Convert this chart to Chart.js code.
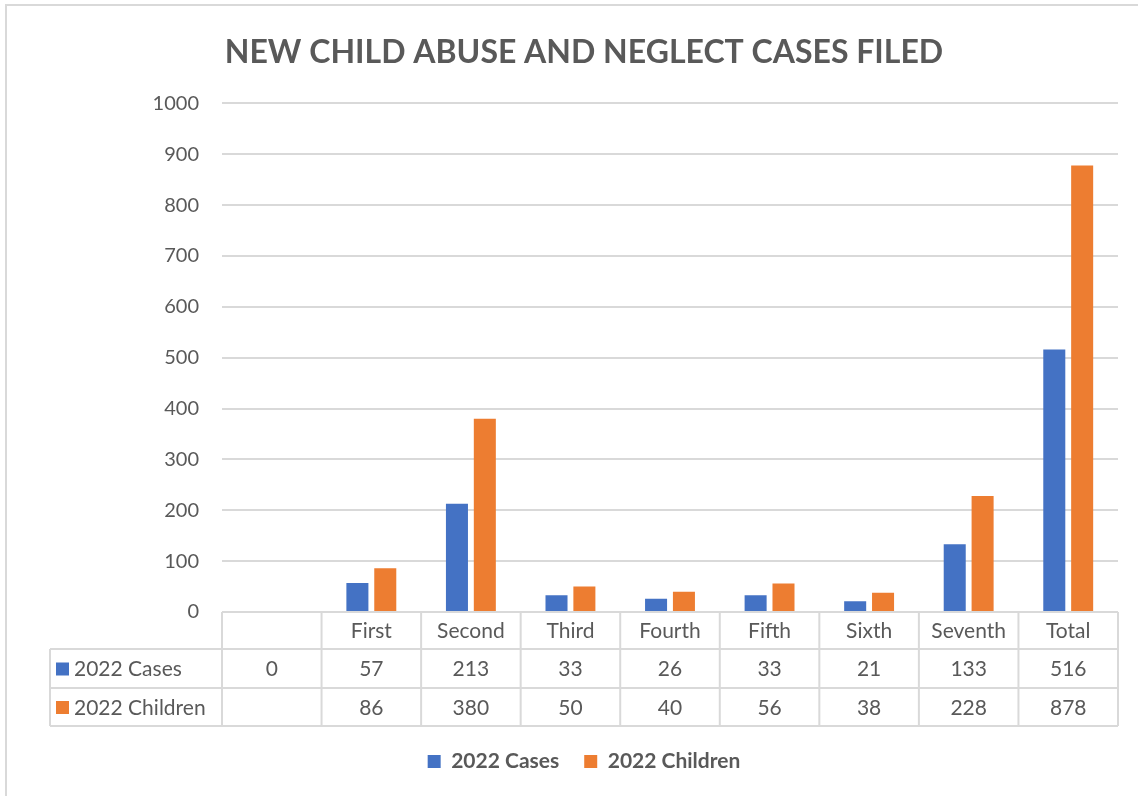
<!DOCTYPE html>
<html>
<head>
<meta charset="utf-8">
<script src="https://cdn.jsdelivr.net/npm/chart.js@4.4.1/dist/chart.umd.min.js"></script>
<style>
  html, body { margin: 0; padding: 0; background: #fff; }
  #wrap { width: 1138px; height: 796px; position: relative; }
</style>
</head>
<body>
<div id="wrap"><canvas id="casesChart" width="1138" height="796"></canvas></div>
<script>
// datos del grafico
const categories = ['', 'First', 'Second', 'Third', 'Fourth', 'Fifth', 'Sixth', 'Seventh', 'Total'];
const cases2022 = [0, 57, 213, 33, 26, 33, 21, 133, 516];
const children2022 = [null, 86, 380, 50, 40, 56, 38, 228, 878];
const seriesNames = ['2022 Cases', '2022 Children'];
const yMin = 0;
const yMax = 1000;
const yStep = 100;

const TEXT = '#595959';
const GRID = '#D9D9D9';
const FONT = 'Lato, "Open Sans", sans-serif';

// marco del grafico (solo arriba e izquierda se ven)
const framePlugin = {
    id: 'frame',
    beforeDraw(chart) {
        const ctx = chart.ctx;
        ctx.save();
        ctx.strokeStyle = GRID;
        ctx.lineWidth = 2;
        ctx.beginPath();
        ctx.moveTo(6, 800);
        ctx.lineTo(6, 5);
        ctx.lineTo(1140, 5);
        ctx.stroke();
        ctx.restore();
    }
};

// tabla de datos debajo del eje x
const dataTablePlugin = {
    id: 'dataTable',
    afterDraw(chart) {
        const { ctx, chartArea, scales: { x } } = chart;
        const half = (x.getPixelForValue(1) - x.getPixelForValue(0)) / 2;
        const rowH = [37, 39, 38];
        const top = chartArea.bottom;
        const y1 = top + rowH[0];
        const y2 = y1 + rowH[1];
        const y3 = y2 + rowH[2];
        const labelLeft = 50;
        const rightEdge = x.getPixelForValue(categories.length - 1) + half;

        ctx.save();
        ctx.strokeStyle = GRID;
        ctx.lineWidth = 2;
        ctx.beginPath();
        ctx.moveTo(chartArea.left, top); ctx.lineTo(rightEdge, top);
        [y1, y2, y3].forEach(yy => { ctx.moveTo(labelLeft, yy); ctx.lineTo(rightEdge, yy); });
        for (let i = 0; i <= categories.length; i++) {
            const xx = x.getPixelForValue(i) - half;
            ctx.moveTo(xx, top); ctx.lineTo(xx, y3);
        }
        ctx.moveTo(labelLeft, y1); ctx.lineTo(labelLeft, y3);
        ctx.stroke();

        ctx.fillStyle = TEXT;
        ctx.font = '21px ' + FONT;
        ctx.textAlign = 'center';
        ctx.textBaseline = 'middle';
        categories.forEach((c, i) => {
            ctx.fillText(c, x.getPixelForValue(i), top + rowH[0] / 2 + 1);
        });

        const rows = [[y1, y2], [y2, y3]];
        chart.data.datasets.forEach((ds, d) => {
            const cy = (rows[d][0] + rows[d][1]) / 2 + 1;
            ds.data.forEach((v, i) => {
                if (v === null) return;
                ctx.fillStyle = TEXT;
                ctx.textAlign = 'center';
                ctx.fillText(String(v), x.getPixelForValue(i), cy);
            });
            ctx.fillStyle = ds.backgroundColor;
            ctx.fillRect(labelLeft + 6, cy - 7, 13, 13);
            ctx.fillStyle = TEXT;
            ctx.textAlign = 'left';
            ctx.fillText(ds.label, labelLeft + 24, cy);
        });
        ctx.restore();
    }
};

const ctx = document.getElementById('casesChart').getContext('2d');

new Chart(ctx, {
    type: 'bar',
    data: {
        labels: categories,
        datasets: [
            {
                label: seriesNames[0],
                data: cases2022,
                backgroundColor: '#4472C4',
                categoryPercentage: 0.56,
                barPercentage: 0.79
            },
            {
                label: seriesNames[1],
                data: children2022,
                backgroundColor: '#ED7D31',
                categoryPercentage: 0.56,
                barPercentage: 0.79
            }
        ]
    },
    options: {
        responsive: false,
        animation: false,
        layout: {
            padding: { left: 50, right: 20, top: 0, bottom: 14 }
        },
        scales: {
            x: {
                grid: { display: false },
                border: { display: false },
                ticks: { display: false },
                afterFit: axis => { axis.height = 114; }
            },
            y: {
                min: yMin,
                max: yMax,
                grid: { color: GRID, lineWidth: 2, drawTicks: false },
                border: { display: false },
                ticks: {
                    stepSize: yStep,
                    color: TEXT,
                    padding: 23,
                    font: { family: FONT, size: 20 },
                    callback: value => String(value)
                },
                afterFit: axis => { axis.width = 172; }
            }
        },
        plugins: {
            title: {
                display: true,
                text: 'NEW CHILD ABUSE AND NEGLECT CASES FILED',
                color: TEXT,
                font: { family: FONT, size: 32, weight: 'bold' },
                padding: { top: 33, bottom: 32 }
            },
            legend: {
                position: 'bottom',
                labels: {
                    color: TEXT,
                    boxWidth: 13,
                    boxHeight: 13,
                    padding: 25,
                    font: { family: FONT, size: 21, weight: 'bold' }
                }
            },
            tooltip: { enabled: false }
        }
    },
    plugins: [framePlugin, dataTablePlugin]
});
</script>
</body>
</html>
